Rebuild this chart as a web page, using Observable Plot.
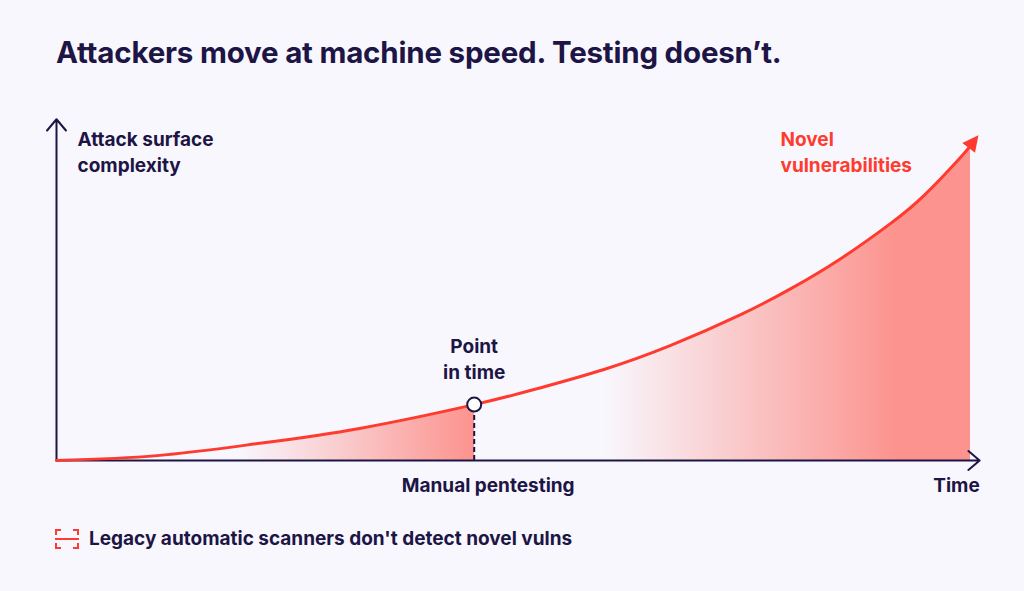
<!DOCTYPE html>
<html>
<head>
<meta charset="utf-8">
<script src="https://cdn.jsdelivr.net/npm/d3@7"></script>
<script src="https://cdn.jsdelivr.net/npm/@observablehq/plot@0.6"></script>
<style>
html, body { margin: 0; padding: 0; background: #f8f7fd; }
body { width: 1024px; height: 591px; overflow: hidden; position: relative; font-family: Inter, "Noto Sans", sans-serif; color: #1d1545; }
#title { position: absolute; left: 56px; top: 34px; font-size: 29.5px; font-weight: 700; letter-spacing: -0.2px; margin: 0; }
#chart { position: absolute; left: 0; top: 100px; }
#legend { position: absolute; left: 55px; top: 527px; display: flex; align-items: center; gap: 10px; font-size: 19px; font-weight: 700; }
</style>
</head>
<body>
<svg width="0" height="0" style="position:absolute">
  <defs><linearGradient id="fillGrad" x1="0" x2="1" y1="0" y2="0"></linearGradient></defs>
</svg>
<div id="title">Attackers move at machine speed. Testing doesn’t.</div>
<div id="chart"></div>
<div id="legend">
  <svg width="24" height="20" viewBox="0 0 24 20">
    <path d="M1,6V1H6 M18,1H23V6 M23,14V19H18 M6,19H1V14" fill="none" stroke="#ff3b30" stroke-width="2"/>
    <path d="M0,10H24" stroke="#ff3b30" stroke-width="2"/>
  </svg>
  <span id="legendText"></span>
</div>
<script>
// ---- data ----
const time = [0, 11, 22, 33, 45.7, 52.6, 59.9, 67.2, 74.8, 80.3, 85.8, 91.2, 94.9, 98.6, 100];
const complexity = [0, 1.5, 5.2, 9.8, 17.2, 22.1, 28.0, 35.4, 44.8, 52.8, 62.1, 72.8, 81.5, 92.3, 96.9];
const pointT = 45.7;          // manual pentest moment
const pointV = 17.2;
const manualFadeStart = 20;   // shading for the manual pentest window
const novelFadeStart = 60;    // shading for novel vulnerabilities
const novelFadeFull = 92;
const yAxisTop = 105;
const xAxisEnd = 101;
const yTitle = "Attack surface\ncomplexity";
const curveLabel = "Novel\nvulnerabilities";
const pointLabel = "Point\nin time";
const pointAxisLabel = "Manual pentesting";
const xTitle = "Time";
const legendLabel = "Legacy automatic scanners don't detect novel vulns";

const navy = "#1d1545";
const red = "#ff3b30";
const salmon = "#fc938e";
const font = "Inter, 'Noto Sans', sans-serif";

const data = time.map((t, i) => ({t, v: complexity[i]}));
document.getElementById("legendText").textContent = legendLabel;

// gradient stops derived from the data's time domain
const tMax = time[time.length - 1];
const stops = [
  [0, 0], [manualFadeStart / tMax, 0], [pointT / tMax, 1], [pointT / tMax, 0],
  [novelFadeStart / tMax, 0], [novelFadeFull / tMax, 1], [1, 1]
];
const grad = document.getElementById("fillGrad");
for (const [o, a] of stops) {
  const s = document.createElementNS("http://www.w3.org/2000/svg", "stop");
  s.setAttribute("offset", o);
  s.setAttribute("stop-color", salmon);
  s.setAttribute("stop-opacity", a);
  grad.appendChild(s);
}

const curve = "natural";
const textBase = {fontSize: 19, fontWeight: 700, fontFamily: font, lineHeight: 1.4};

const chart = Plot.plot({
  width: 1024,
  height: 410,
  marginLeft: 56,
  marginRight: 54,
  marginTop: 35,
  marginBottom: 50,
  style: {background: "transparent", overflow: "visible"},
  x: {domain: [0, tMax], axis: null},
  y: {domain: [0, 100], axis: null},
  marks: [
    Plot.areaY(data, {x: "t", y: "v", fill: "url(#fillGrad)", curve}),
    Plot.arrow([{x1: 0, y1: 0, x2: xAxisEnd, y2: 0}], {x1: "x1", y1: "y1", x2: "x2", y2: "y2", stroke: navy, strokeWidth: 2, headLength: 11, headAngle: 80}),
    Plot.arrow([{x1: 0, y1: 0, x2: 0, y2: yAxisTop}], {x1: "x1", y1: "y1", x2: "x2", y2: "y2", stroke: navy, strokeWidth: 2, headLength: 11, headAngle: 80}),
    Plot.line(data, {x: "t", y: "v", stroke: red, strokeWidth: 3, curve, markerEnd: "arrow"}),
    Plot.ruleX([{t: pointT, v: pointV}], {x: "t", y1: 0, y2: "v", stroke: navy, strokeWidth: 2, strokeDasharray: "5,3"}),
    Plot.dot([{t: pointT, v: pointV}], {x: "t", y: "v", r: 7, fill: "white", stroke: navy, strokeWidth: 2}),
    Plot.text([{t: pointT, v: pointV, label: pointLabel}], {x: "t", y: "v", text: "label", dy: -47, fill: navy, textAnchor: "middle", ...textBase}),
    Plot.text([{t: pointT, v: 0, label: pointAxisLabel}], {x: "t", y: "v", text: "label", dy: 23, dx: 14, fill: navy, textAnchor: "middle", ...textBase}),
    Plot.text([{t: tMax, v: 0, label: xTitle}], {x: "t", y: "v", text: "label", dy: 23, dx: -14, fill: navy, textAnchor: "middle", ...textBase}),
    Plot.text([yTitle], {frameAnchor: "top-left", text: d => d, dx: 21, dy: 15, fill: navy, textAnchor: "start", lineAnchor: "middle", ...textBase}),
    Plot.text([curveLabel], {frameAnchor: "top-right", text: d => d, dx: -190, dy: 15, fill: red, textAnchor: "start", lineAnchor: "middle", ...textBase})
  ]
});

// filled triangular arrowhead for the curve
chart.querySelectorAll("marker").forEach(m => {
  m.setAttribute("markerUnits", "userSpaceOnUse");
  m.setAttribute("viewBox", "-20 -20 40 40");
  m.setAttribute("markerWidth", 40);
  m.setAttribute("markerHeight", 40);
  m.setAttribute("fill", red);
  m.setAttribute("stroke", "none");
  m.innerHTML = "";
  const p = document.createElementNS("http://www.w3.org/2000/svg", "path");
  p.setAttribute("d", "M-3,-8L13,0L-3,8Z");
  p.setAttribute("fill", red);
  m.appendChild(p);
});

document.getElementById("chart").appendChild(chart);
</script>
</body>
</html>
